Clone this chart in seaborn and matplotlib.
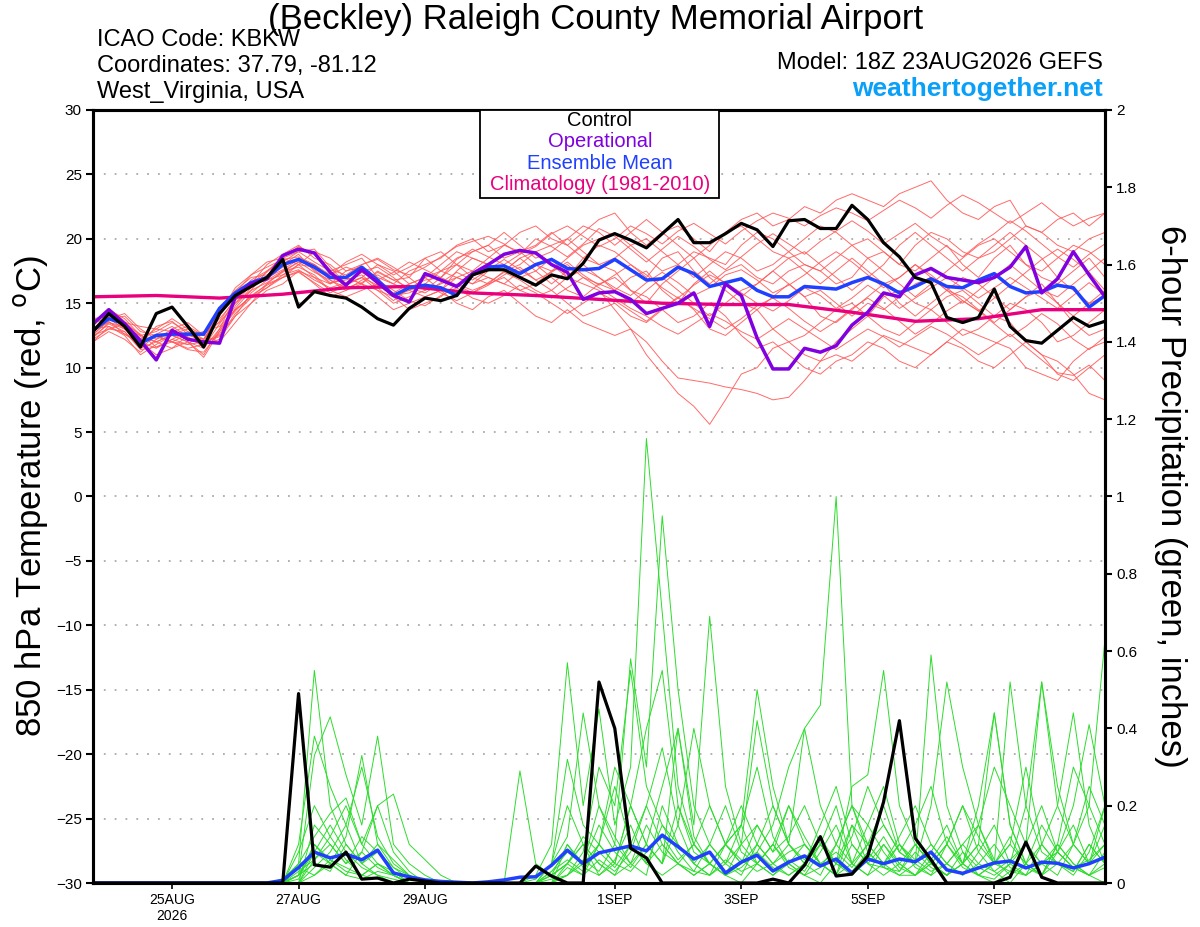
import numpy as np
import pandas as pd
import matplotlib
matplotlib.use("Agg")
import matplotlib.pyplot as plt
import seaborn as sns
from matplotlib.patches import Rectangle

# ---------------- data (6-hourly steps from 18Z 23AUG2026) ----------------
steps = list(range(65))
tick_steps = [5, 13, 21, 33, 41, 49, 57]
tick_labels = ["25AUG\n2026", "27AUG", "29AUG", "1SEP", "3SEP", "5SEP", "7SEP"]

control_t = [12.8, 14.2, 13.2, 11.6, 14.2, 14.7, 13.2, 11.6, 14.2,
             15.6, 16.3, 17.0, 18.4, 14.7, 15.9, 15.6, 15.4, 14.7, 13.8, 13.3, 14.6, 15.4, 15.2,
             15.6, 17.2, 17.6, 17.6, 17.0, 16.4, 17.2, 16.9, 18.1, 19.9, 20.4, 19.9, 19.3, 20.4,
             21.5, 19.7, 19.7, 20.4, 21.2, 20.7, 19.4,
             21.4, 21.5, 20.8, 20.8, 22.6, 21.5, 19.7, 18.6, 17.0, 16.6, 13.9, 13.5, 13.9, 16.1,
             13.2, 12.1, 11.9, 12.9, 13.9, 13.2, 13.6]
oper_t = [13.4, 14.5, 13.4, 12.1, 10.6, 12.9, 12.2, 12.0, 11.9,
          15.5, 16.5, 16.9, 18.7, 19.2, 18.9, 17.4, 16.4, 17.6, 16.6, 15.6, 15.1, 17.3, 16.8,
          16.3, 17.3, 18.0, 18.8, 19.1, 18.9, 18.0, 17.4, 15.3, 15.8, 15.9, 15.3, 14.2, 14.6,
          15.0, 15.8, 13.2, 16.5, 15.6, 12.3, 9.9,
          9.9, 11.5, 11.2, 11.7, 13.3, 14.3, 15.8, 15.5, 17.2, 17.7, 17.0, 16.8, 16.6, 17.0,
          17.8, 19.4, 15.8, 16.9, 19.0, 17.2, 15.5]
mean_t = [12.9, 13.8, 13.4, 11.9, 12.5, 12.6, 12.6, 12.6, 14.6, 15.8, 16.6, 17.0, 18.0,
          18.4, 17.8, 17.0, 17.0, 17.8, 16.8, 15.6, 16.2, 16.4, 16.2, 15.6, 17.2, 17.8,
          17.9, 17.3, 18.0, 18.4, 17.7, 17.6, 17.7, 18.4, 17.6, 16.8, 16.9, 17.8, 17.3,
          16.3, 16.6, 16.9, 16.0, 15.5, 15.5, 16.3, 16.2, 16.1, 16.6, 17.0, 16.5, 15.8,
          16.3, 16.9, 16.3, 16.2, 16.8, 17.3, 16.3, 15.8, 15.9, 16.4, 16.2, 14.7, 15.6]
clim_steps = [0, 4, 8, 12, 16, 20, 24, 28, 32, 36, 40, 44, 48, 52, 56, 60, 64]
clim_t = [15.5, 15.6, 15.4, 15.7, 16.2, 16.3, 15.8, 15.6, 15.3, 15.0, 14.9, 14.9,
          14.3, 13.6, 13.8, 14.5, 14.5]

temp_members = [
    [12.8,14.0,13.5,12.2,13.0,13.8,13.0,12.5,14.2, 15.5,16.8,17.5,18.5,19.0,18.2,17.5,18.0,
     18.5,17.0,16.5,17.5,18.0,18.5,19.5,20.0, 19.0,19.5,20.5,21.0,20.0,19.5,20.5,21.5,
     22.0,20.5,19.5,20.5,21.0,20.0,19.0,20.5, 21.5,22.0,21.0,21.5,22.5,22.0,23.0,23.5,
     23.0,22.5,23.5,24.0,24.5,23.0,22.0,21.5, 22.5,23.0,21.0,20.5,21.5,22.0,21.0,22.0],
    [13.0,13.5,13.2,11.5,12.0,12.5,12.0,11.0,13.0, 14.5,15.5,16.5,17.0,17.5,17.0,16.0,16.5,
     17.0,16.0,15.0,15.5,16.0,16.5,17.0,16.5, 17.5,18.0,17.0,17.5,18.5,17.0,16.5,16.0,
     14.5,13.0,11.0,9.5,8.0,7.0,5.6,7.5, 9.5,10.0,11.5,12.0,11.0,10.5,12.0,13.0,
     14.0,15.5,16.0,15.0,14.5,15.5,16.0,15.0, 14.0,13.5,12.0,11.0,10.5,9.5,8.0,7.5],
    [12.5,13.8,13.0,12.0,11.5,12.2,11.8,12.0,12.5, 14.0,15.0,16.0,16.5,17.5,16.5,15.5,16.0,
     16.5,15.5,14.5,15.0,15.5,16.0,15.0,14.5, 15.5,16.0,15.0,14.0,13.5,14.5,13.5,13.0,
     12.5,13.0,12.0,10.5,9.2,9.0,8.8,8.5, 8.3,8.0,7.5,7.7,9.0,10.5,11.0,10.5,
     11.5,12.5,12.0,11.5,11.0,12.0,13.0,12.5, 12.0,11.5,10.0,9.5,9.0,10.5,11.5,12.0],
    [13.2,14.5,13.8,12.5,12.8,13.5,12.8,12.0,14.5, 16.0,17.0,17.2,18.0,18.8,17.5,16.5,17.5,
     17.8,16.5,15.8,16.5,17.0,16.0,17.5,18.5, 18.0,17.5,18.5,19.0,18.0,17.0,18.5,19.5,
     19.0,18.0,17.0,18.5,19.0,17.5,16.5,17.5, 18.0,17.0,16.5,17.5,18.0,17.5,16.5,17.0,
     18.5,19.0,18.0,17.5,18.5,19.5,18.0,17.0, 18.5,19.5,18.0,17.0,16.5,17.5,18.5,17.0],
    [12.0,13.2,12.5,11.0,11.8,12.5,12.0,10.8,12.8, 14.8,16.2,17.0,17.8,18.5,18.0,17.0,16.5,
     17.5,17.8,17.0,16.0,16.5,17.5,18.5,19.0, 19.5,18.5,19.0,19.5,20.5,19.5,18.5,18.0,
     17.5,16.0,15.0,16.5,17.5,18.5,17.0,16.0, 15.0,14.5,15.5,16.5,15.5,14.0,13.5,14.5,
     15.5,16.5,15.0,14.0,15.0,16.0,17.0,16.5, 15.5,14.5,15.5,16.5,15.0,13.5,12.5,13.0],
    [13.5,13.8,14.2,13.0,12.2,13.0,13.5,12.5,13.8, 15.2,16.5,18.0,18.8,19.5,18.5,18.0,17.0,
     16.5,17.5,16.8,17.0,18.5,19.0,18.0,17.5, 18.5,19.5,19.0,18.0,17.5,18.5,19.5,20.0,
     20.5,19.5,18.5,17.5,18.0,19.0,18.5,18.0, 19.5,20.5,20.0,19.0,18.0,17.5,18.5,19.5,
     20.0,19.0,18.0,19.5,20.5,20.0,19.0,18.5, 19.0,20.0,21.0,20.5,19.5,19.0,20.0,20.5],
    [12.5,13.0,12.8,11.5,12.5,12.0,11.5,11.8,12.2, 14.0,15.8,16.8,17.5,17.8,17.2,16.0,15.5,
     16.0,16.5,15.5,14.5,15.0,15.5,16.5,16.0, 16.5,17.0,16.0,15.5,16.0,15.0,14.0,14.5,
     15.0,14.0,13.5,14.5,15.5,14.5,13.0,12.5, 13.5,14.5,13.0,12.0,12.5,13.5,14.5,15.0,
     14.0,13.0,12.5,13.5,14.5,13.5,12.5,13.0, 14.0,15.0,14.5,13.5,12.0,12.5,13.5,14.5],
    [13.0,14.2,13.0,12.0,11.0,11.5,12.5,12.8,13.5, 15.0,16.0,17.5,18.2,19.0,19.2,17.8,16.5,
     17.0,18.0,17.5,16.5,17.0,18.0,19.0,18.5, 18.0,17.5,18.0,19.0,19.5,20.0,21.0,20.5,
     19.5,20.5,21.5,20.5,19.5,18.5,19.5,20.5, 21.0,20.0,19.0,18.5,17.5,16.5,17.5,18.5,
     17.5,16.5,17.0,18.0,17.0,16.0,15.0,16.0, 17.0,18.0,17.0,16.0,15.5,16.5,17.5,18.5],
    [12.3,13.5,13.0,12.5,12.0,11.5,12.0,11.5,13.0, 15.5,16.5,16.8,17.2,18.0,17.0,16.5,17.0,
     16.5,16.0,15.5,16.0,17.0,17.5,17.0,16.5, 17.0,16.5,17.5,18.0,17.0,16.0,15.5,16.5,
     17.0,16.0,15.5,14.5,13.5,14.0,15.0,14.0, 12.5,11.5,12.0,11.0,10.0,9.5,10.5,11.0,
     12.0,11.5,10.5,10.0,11.0,12.0,11.5,10.5, 10.0,11.0,12.0,11.0,9.5,9.0,10.0,11.0],
    [13.8,14.0,13.5,13.2,13.0,12.8,12.5,12.2,14.0, 15.8,17.2,18.2,18.5,18.0,17.8,17.2,18.2,
     18.8,18.0,17.2,17.8,18.5,17.5,18.0,19.0, 19.5,20.5,19.5,18.5,19.0,20.0,19.0,18.0,
     18.5,19.5,20.0,19.0,18.0,17.0,18.0,19.0, 18.5,17.5,18.0,19.0,20.0,21.0,20.5,19.5,
     18.5,17.5,16.5,15.5,16.5,17.5,18.5,19.5, 20.0,19.0,18.0,17.5,18.5,19.5,19.0,18.0],
    [12.0,12.8,12.2,11.2,12.2,12.8,13.2,12.5,12.0, 13.5,15.0,16.5,17.5,18.2,18.0,16.8,16.0,
     16.8,17.2,16.5,16.0,15.5,16.0,17.0,17.5, 17.0,16.5,16.0,16.5,17.5,18.0,17.0,16.5,
     16.0,15.0,16.0,17.0,16.0,15.0,14.0,15.0, 16.0,16.5,17.5,16.5,15.5,16.0,15.0,14.0,
     15.0,14.5,15.5,16.5,17.0,16.0,15.5,14.5, 13.5,14.5,15.5,16.0,15.0,14.0,15.0,16.0],
    [13.0,13.8,14.0,12.8,12.5,12.0,11.8,12.8,13.2, 14.5,15.5,16.2,17.0,18.0,19.0,18.5,17.5,
     18.0,18.5,17.8,17.0,16.0,17.0,18.0,17.0, 16.5,17.5,18.5,17.5,16.5,17.5,18.0,17.0,
     16.0,17.0,17.5,16.0,15.0,16.5,17.5,16.5, 15.5,16.5,17.5,18.5,19.0,18.0,17.0,16.0,
     17.0,18.0,19.5,20.5,19.5,18.5,17.5,18.5, 19.5,20.5,19.5,18.5,17.0,16.0,15.0,15.5],
    [12.6,13.6,12.6,11.8,12.6,13.2,12.4,11.6,13.4, 15.0,16.4,17.0,17.6,18.4,17.6,16.6,16.8,
     17.2,16.2,15.2,16.2,16.8,17.0,16.4,15.8, 16.4,17.2,17.8,16.8,16.0,17.0,17.6,17.0,
     16.2,15.6,16.6,17.4,16.6,15.6,16.2,17.2, 17.6,16.8,15.8,16.4,17.2,18.2,19.0,18.2,
     17.2,16.2,17.0,18.0,17.2,16.2,15.2,14.4, 15.4,16.4,17.4,18.4,19.2,18.4,17.4,16.0],
    [13.4,14.6,13.6,12.4,12.0,12.6,13.0,12.2,13.6, 15.4,16.6,17.4,18.6,19.4,18.8,17.6,17.2,
     18.0,18.4,17.6,17.2,17.8,18.6,19.4,19.8, 20.2,19.6,18.8,19.4,20.4,21.0,20.2,19.4,
     20.0,21.0,20.4,19.6,20.6,21.2,20.4,19.6, 20.6,21.4,22.0,21.6,21.0,21.8,22.4,22.0,
     21.4,22.2,23.0,22.4,21.6,22.6,23.4,22.8, 22.0,21.2,22.0,22.8,21.8,21.0,21.6,22.0],
    [12.2,13.0,13.4,12.6,11.6,12.0,12.6,12.0,12.4, 14.2,15.4,16.2,17.2,17.6,16.8,16.2,16.6,
     17.4,16.8,16.0,15.2,14.8,15.6,16.2,15.4, 15.0,15.6,16.4,15.8,15.0,14.2,15.0,15.8,
     15.2,14.4,13.6,14.6,15.4,14.6,13.8,13.0, 13.8,14.8,15.4,14.6,13.6,12.8,13.6,14.6,
     15.4,14.6,13.6,12.6,13.4,14.4,15.2,14.4, 13.4,12.4,13.2,14.2,13.4,12.2,11.4,12.4],
    [13.6,14.2,13.2,11.8,13.2,13.6,12.6,12.2,14.2, 16.2,17.2,17.8,18.4,18.6,18.0,17.2,17.8,
     17.4,16.8,17.4,18.2,17.6,17.0,18.4,19.2, 18.6,18.0,18.8,20.0,19.4,18.6,19.6,20.8,
     20.2,19.2,18.2,19.2,20.2,19.4,18.4,17.6, 18.6,19.6,20.4,19.6,18.8,19.8,20.6,21.4,
     20.6,19.6,20.4,21.2,20.2,19.4,18.6,19.6, 20.4,21.4,20.6,19.6,18.6,17.8,18.8,19.6],
    [12.4,13.4,12.8,11.4,11.6,12.2,12.8,11.8,12.6, 14.6,16.0,16.6,17.4,18.2,17.4,16.8,16.2,
     16.6,17.4,16.8,16.2,15.8,16.6,17.4,16.8, 17.6,18.4,17.6,16.8,17.4,18.2,17.2,16.4,
     17.2,18.0,17.2,16.2,15.4,16.4,17.2,16.6, 15.8,15.0,14.4,15.2,16.2,15.6,14.6,15.4,
     16.4,15.6,14.6,15.4,16.2,17.0,16.2,15.4, 16.2,17.0,16.2,15.4,14.6,15.6,16.6,15.6],
    [13.0,13.2,12.6,12.0,12.4,12.0,11.4,11.2,12.8, 14.4,15.6,16.4,17.0,17.4,16.6,15.8,16.4,
     17.0,16.4,15.6,15.8,16.4,15.8,15.2,15.8, 16.6,17.4,16.8,16.0,15.4,16.2,17.0,16.2,
     15.4,14.6,14.0,13.2,12.6,13.4,14.2,13.6, 12.8,12.2,13.0,13.8,13.0,12.2,11.4,12.2,
     13.0,12.4,11.6,12.4,13.2,12.6,11.8,11.0, 11.8,12.6,11.6,10.6,9.6,9.4,10.2,9.0],
]

control_p = [0, 0, 0, 0, 0, 0, 0, 0, 0, 0, 0, 0, 0,
             0.49, 0.047, 0.041, 0.08, 0.01, 0.013, 0, 0.01, 0.005, 0, 0, 0, 0,
             0, 0, 0.044, 0.018, 0, 0, 0.52, 0.40, 0.09, 0.065, 0, 0, 0,
             0, 0, 0, 0, 0.01, 0, 0.046, 0.12, 0.018, 0.023, 0.07, 0.21, 0.42,
             0.116, 0.06, 0, 0, 0, 0, 0.015, 0.106, 0.015, 0, 0, 0, 0]
mean_p = [0, 0, 0, 0, 0, 0, 0, 0, 0, 0, 0, 0, 0.007,
          0.04, 0.08, 0.065, 0.075, 0.06, 0.085, 0.026, 0.016, 0.008, 0.004, 0.002, 0, 0.003,
          0.008, 0.015, 0.016, 0.046, 0.085, 0.05, 0.078, 0.087, 0.096, 0.083, 0.124, 0.094, 0.062,
          0.08, 0.026, 0.054, 0.072, 0.031, 0.054, 0.07, 0.044, 0.062, 0.026, 0.062, 0.05, 0.062,
          0.055, 0.08, 0.034, 0.025, 0.039, 0.052, 0.057, 0.039, 0.054, 0.051, 0.039, 0.05, 0.067]

precip_members = [
    [0,0,0,0,0,0,0,0,0,0,0,0,0,
     .05,.55,.20,.10,.05,.02,0,0,0,0,0,0,0,
     0,0,.02,.10,.57,.20,.45,.15,.30,1.15,.70,.25,.10,
     .05,.02,0,.05,.10,.04,.02,.08,.15,.05,.02,.10,.04,
     .02,.08,.15,.05,.02,0,.03,.10,.05,.02,.10,.25,.15],
    [0,0,0,0,0,0,0,0,0,0,0,0,0,
     .10,.38,.25,.15,.30,.12,.05,.02,0,0,0,0,0,
     0,0,0,.05,.12,.44,.20,.10,.58,.30,.95,.50,.20,
     .10,.05,.15,.30,.12,.05,.02,0,.05,.12,.25,.15,.08,
     .05,.02,.10,.20,.08,.03,0,.05,.15,.08,.04,.02,.05],
    [0,0,0,0,0,0,0,0,0,0,0,0,0,
     .02,.33,.43,.28,.15,.38,.10,.05,.02,0,0,0,0,
     0,0,0,.02,.05,.10,.02,.05,.20,.10,.05,.40,.15,
     .69,.25,.10,.42,.20,.10,.05,.02,.10,.20,.08,.04,.02,
     .05,.59,.20,.08,.02,.05,.12,.04,.02,.08,.15,.05,.10],
    [0,0,0,0,0,0,0,0,0,0,0,0,.01,
     .05,.12,.18,.22,.10,.20,.23,.10,.06,.02,0,0,0,
     0,0,0,.03,.08,.05,.15,.08,.04,.10,.25,.40,.12,
     .05,.10,.15,.50,.25,.10,.40,.46,1.00,.20,.10,.05,.02,
     .02,.05,.10,.04,.02,.01,.05,.10,.20,.08,.04,.02,0],
    [0,0,0,0,0,0,0,0,0,0,0,0,0,
     0,.08,.05,.12,.33,.10,.04,.02,0,0,0,0,0,
     0,.29,.05,.02,.10,.05,.20,.12,.05,.15,.08,.05,.10,
     .20,.10,.05,.15,.08,.12,.20,.10,.05,.25,.28,.55,.20,
     .10,.05,.02,.05,.10,.44,.15,.05,.02,.10,.05,.02,.08],
    [0,0,0,0,0,0,0,0,0,0,0,0,0,
     0,.15,.10,.05,.08,.20,.08,.03,0,0,0,0,0,
     0,0,.01,.05,.32,.15,.10,.30,.20,.10,.05,.15,.40,
     .20,.10,.05,.08,.15,.30,.40,.20,.10,.05,.15,.25,.10,
     .05,.20,.52,.30,.15,.05,.10,.05,.02,.10,.30,.20,.10],
    [0,0,0,0,0,0,0,0,0,0,0,0,0,
     .03,.06,.10,.05,.12,.08,.03,0,0,0,0,0,0,
     0,0,0,0,.05,.10,.05,.02,.10,.05,.02,.05,.02,
     .05,.10,.20,.10,.05,.02,.05,.10,.05,.02,.06,.12,.05,
     .02,.05,.10,.20,.12,.05,.52,.20,.08,.05,.03,.10,.05],
    [0,0,0,0,0,0,0,0,0,0,0,0,0,
     .08,.20,.12,.06,.02,.05,.02,0,0,0,0,0,0,
     0,0,0,.01,.02,.08,.30,.20,.55,.25,.15,.10,.05,
     .02,.10,.15,.05,.02,.05,.10,.05,.02,.15,.10,.05,.12,
     .20,.10,.05,.02,.08,.15,.05,.20,.52,.25,.10,.05,.15],
    [0,0,0,0,0,0,0,0,0,0,0,0,0,
     0,.04,.08,.15,.05,.10,.06,.02,0,0,0,0,0,
     0,0,0,.02,.05,.12,.08,.04,.10,.20,.35,.15,.05,
     .10,.05,.02,.10,.05,.08,.10,.05,.02,.05,.10,.20,.08,
     .05,.10,.05,.02,.05,.10,.04,.02,.05,.08,.20,.41,.20],
    [0,0,0,0,0,0,0,0,0,0,0,0,0,
     .02,.05,.03,.10,.05,.08,.04,.01,0,0,0,0,0,
     0,0,0,0,.02,.05,.10,.05,.20,.40,.55,.20,.08,
     .05,.02,.05,.10,.20,.10,.05,.15,.25,.10,.05,.02,.05,
     .10,.05,.02,.05,.20,.44,.15,.05,.02,.05,.10,.20,.63],
    [0,0,0,0,0,0,0,0,0,0,0,0,0,
     .01,.10,.06,.03,.02,.05,.03,0,0,0,0,0,0,
     0,0,0,.03,.06,.03,.10,.05,.03,.08,.12,.06,.10,
     .05,.10,.06,.03,.05,.10,.06,.12,.05,.03,.08,.04,.10,
     .06,.03,.05,.10,.05,.03,.06,.10,.05,.08,.04,.06,.10],
    [0,0,0,0,0,0,0,0,0,0,0,0,0,
     .02,.08,.15,.08,.04,.02,.01,0,0,0,0,0,0,
     0,0,0,.05,.20,.10,.05,.02,.05,.10,.05,.20,.10,
     .05,.02,.04,.08,.04,.02,.05,.10,.20,.05,.02,.05,.10,
     .04,.02,.05,.10,.15,.06,.02,.05,.10,.20,.44,.15,.05],
    [0,0,0,0,0,0,0,0,0,0,0,0,0,
     0,.02,.05,.02,.01,.03,.02,0,0,0,0,0,0,
     0,0,0,.02,.05,.02,.10,.25,.10,.05,.15,.08,.03,
     .10,.20,.08,.05,.10,.20,.12,.05,.08,.04,.10,.15,.08,
     .15,.25,.10,.05,.15,.30,.20,.10,.52,.20,.10,.05,.20],
    [0,0,0,0,0,0,0,0,0,0,0,0,0,
     .04,.02,.06,.04,.02,.01,0,0,0,0,0,0,0,
     0,0,0,0,.02,.06,.03,.10,.05,.02,.20,.10,.05,
     .02,.05,.10,.05,.02,.06,.03,.10,.05,.15,.05,.10,.05,
     .02,.06,.12,.05,.02,.05,.10,.30,.10,.05,.02,.08,.20],
    [0,0,0,0,0,0,0,0,0,0,0,0,0,
     .02,.10,.05,.02,.08,.04,.02,0,0,0,0,0,0,
     0,0,0,0,.10,.04,.02,.06,.15,.05,.10,.05,.02,
     .05,.02,.10,.15,.08,.20,.10,.05,.02,.10,.05,.04,.03,
     .10,.05,.02,.08,.04,.02,.05,.02,.10,.05,.03,.10,.05],
    [0,0,0,0,0,0,0,0,0,0,0,0,0,
     0,.06,.12,.20,.10,.05,.02,0,0,0,0,0,0,
     0,0,0,0,.04,.02,.06,.03,.08,.20,.10,.05,.03,
     .02,.06,.03,.05,.10,.05,.02,.04,.10,.20,.15,.08,.03,
     .08,.04,.02,.05,.10,.05,.03,.02,.05,.10,.05,.02,.04],
]

for name, arr in [("control_t", control_t), ("oper_t", oper_t), ("mean_t", mean_t),
                  ("control_p", control_p), ("mean_p", mean_p)]:
    if len(arr) != 65:
        raise ValueError(f"{name} has {len(arr)}")
for k, m in enumerate(temp_members):
    if len(m) != 65:
        raise ValueError(f"temp member {k} has {len(m)}")
for k, m in enumerate(precip_members):
    if len(m) != 65:
        raise ValueError(f"precip member {k} has {len(m)}")

# ---------------- tables ----------------
df_tm = pd.DataFrame([(k, s, v) for k, m in enumerate(temp_members) for s, v in zip(steps, m)],
                     columns=["member", "step", "temp"])
df_pm = pd.DataFrame([(k, s, v) for k, m in enumerate(precip_members) for s, v in zip(steps, m)],
                     columns=["member", "step", "precip"])
df_main = pd.DataFrame({"step": steps, "control_t": control_t, "oper_t": oper_t,
                        "mean_t": mean_t, "control_p": control_p, "mean_p": mean_p})
df_clim = pd.DataFrame({"step": clim_steps, "clim": clim_t})

# ---------------- style ----------------
sns.set_theme(style="white")
plt.rcParams['font.family'] = ['Liberation Sans', 'DejaVu Sans']
plt.rcParams['axes.edgecolor'] = 'black'
plt.rcParams['text.color'] = 'black'
plt.rcParams['axes.labelcolor'] = 'black'
plt.rcParams['xtick.color'] = 'black'
plt.rcParams['ytick.color'] = 'black'

C_RED = '#ff5a5a'
C_GREEN = '#2ddc2d'
C_OPER = '#8000e0'
C_MEAN = '#2040ff'
C_CLIM = '#e8007e'

fig = plt.figure(figsize=(12, 9.27), dpi=100)
ax = fig.add_axes([0.0775, 0.04746, 0.8433, 0.8339])
ax2 = ax.twinx()

# temperature (left axis)
sns.lineplot(data=df_tm, x="step", y="temp", units="member", estimator=None,
             color=C_RED, lw=0.7, alpha=0.9, ax=ax, legend=False)
sns.lineplot(data=df_clim, x="step", y="clim", color=C_CLIM, lw=2.4, ax=ax)
sns.lineplot(data=df_main, x="step", y="mean_t", color=C_MEAN, lw=2.5, ax=ax)
sns.lineplot(data=df_main, x="step", y="oper_t", color=C_OPER, lw=2.5, ax=ax)
sns.lineplot(data=df_main, x="step", y="control_t", color='black', lw=2.3, ax=ax)

# precipitation (right axis)
sns.lineplot(data=df_pm, x="step", y="precip", units="member", estimator=None,
             color=C_GREEN, lw=0.7, ax=ax2, legend=False)
sns.lineplot(data=df_main, x="step", y="mean_p", color=C_MEAN, lw=2.5, ax=ax2)
sns.lineplot(data=df_main, x="step", y="control_p", color='black', lw=2.3, ax=ax2)

ax.set_xlim(0, 64)
ax.set_ylim(-30, 30)
ax2.set_ylim(0, 2)
ax.set_yticks(np.arange(-30, 31, 5))
ax2.set_yticks(np.arange(0, 2.01, 0.2))
ax2.set_yticklabels([f"{v:g}" for v in np.round(np.arange(0, 2.01, 0.2), 1)])
ax.set_xticks(tick_steps)
ax.set_xticklabels(tick_labels)

ax.yaxis.grid(True, linestyle=(0, (1, 5)), color='#aaaaaa', lw=1.3)
ax.xaxis.grid(False)
ax2.grid(False)
ax.set_axisbelow(True)

ax.tick_params(axis='y', direction='out', left=True, length=5, width=1.5,
               labelsize=11, pad=3, colors='black')
ax.tick_params(axis='x', direction='out', bottom=True, length=4, width=1.2,
               labelsize=10, pad=3, colors='black')
ax2.yaxis.set_ticks_position('right')
ax2.tick_params(axis='y', direction='out', right=True, length=5, width=1.5,
                labelsize=11, pad=3, colors='black')

for a in (ax, ax2):
    for sp in a.spines.values():
        sp.set_linewidth(2.2)
        sp.set_color('black')

ax.set_xlabel("")
ax.set_ylabel("850 hPa Temperature (red, $^{\\mathrm{o}}$C)", fontsize=25, va='center',
              ha='center', color='black')
ax.yaxis.set_label_coords(-0.062, 0.5)
ax2.set_ylabel("6-hour Precipitation (green, inches)", fontsize=25, rotation=-90,
               va='center', ha='center', color='black')
ax2.yaxis.set_label_coords(1.065, 0.5)

# legend box
ax2.add_patch(Rectangle((0.382, 0.886), 0.237, 0.114, transform=ax2.transAxes,
                        facecolor='white', edgecolor='black', lw=1.3, zorder=20, clip_on=False))
leg_items = [("Control", 'black', 0.986), ("Operational", C_OPER, 0.959),
             ("Ensemble Mean", C_MEAN, 0.931), ("Climatology (1981-2010)", C_CLIM, 0.903)]
for txt, col, yy in leg_items:
    ax2.text(0.501, yy, txt, color=col, fontsize=14.5, ha='center', va='center',
             transform=ax2.transAxes, zorder=21)

# header texts
fig.text(0.496, 0.979, "(Beckley) Raleigh County Memorial Airport", fontsize=25,
         ha='center', va='center', color='black')
fig.text(0.0808, 0.9569, "ICAO Code: KBKW", fontsize=17, ha='left', va='center', color='black')
fig.text(0.0808, 0.9288, "Coordinates: 37.79, -81.12", fontsize=17, ha='left', va='center',
         color='black')
fig.text(0.0808, 0.9008, "West_Virginia, USA", fontsize=17, ha='left', va='center', color='black')
fig.text(0.919, 0.932, "Model: 18Z 23AUG2026 GEFS", fontsize=17, ha='right', va='center',
         color='black')
fig.text(0.919, 0.904, "weathertogether.net", fontsize=19, fontweight='bold',
         color='#0aa0f8', ha='right', va='center')

fig.savefig("out.png", dpi=100, facecolor='white')
